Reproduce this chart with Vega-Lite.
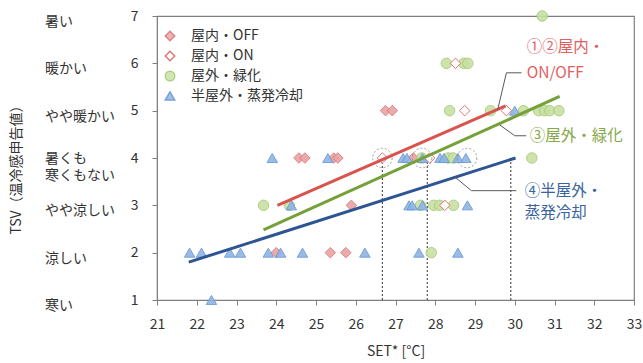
{
  "$schema": "https://vega.github.io/schema/vega-lite/v6.json",
  "width": 477,
  "height": 284,
  "autosize": {"type": "none"},
  "padding": {"left": 157, "top": 16, "right": 9, "bottom": 63},
  "config": {
    "font": "Noto Sans CJK JP",
    "view": {"stroke": "#7f7f7f", "strokeWidth": 1.2},
    "axis": {
      "grid": false,
      "domainColor": "#7f7f7f",
      "tickColor": "#7f7f7f",
      "labelColor": "#333333",
      "titleColor": "#333333",
      "labelFont": "Noto Sans CJK JP",
      "titleFont": "Noto Sans CJK JP",
      "labelFontSize": 14,
      "titleFontSize": 14,
      "titleFontWeight": "normal",
      "tickSize": 5
    }
  },
  "datasets": {
    "pts": [
      {"s": "屋内・OFF", "x": 24.0, "y": 2},
      {"s": "屋内・OFF", "x": 25.36, "y": 2},
      {"s": "屋内・OFF", "x": 25.75, "y": 2},
      {"s": "屋内・OFF", "x": 25.89, "y": 3},
      {"s": "屋内・OFF", "x": 24.57, "y": 4},
      {"s": "屋内・OFF", "x": 24.72, "y": 4},
      {"s": "屋内・OFF", "x": 25.45, "y": 4},
      {"s": "屋内・OFF", "x": 25.55, "y": 4},
      {"s": "屋内・OFF", "x": 27.45, "y": 4},
      {"s": "屋内・OFF", "x": 26.75, "y": 5},
      {"s": "屋内・OFF", "x": 26.92, "y": 5},
      {"s": "屋外・緑化", "x": 30.69, "y": 7},
      {"s": "屋外・緑化", "x": 28.28, "y": 6},
      {"s": "屋外・緑化", "x": 28.72, "y": 6},
      {"s": "屋外・緑化", "x": 28.82, "y": 6},
      {"s": "屋外・緑化", "x": 28.36, "y": 5},
      {"s": "屋外・緑化", "x": 29.39, "y": 5},
      {"s": "屋外・緑化", "x": 30.22, "y": 5},
      {"s": "屋外・緑化", "x": 30.6, "y": 5},
      {"s": "屋外・緑化", "x": 30.75, "y": 5},
      {"s": "屋外・緑化", "x": 30.88, "y": 5},
      {"s": "屋外・緑化", "x": 31.11, "y": 5},
      {"s": "屋外・緑化", "x": 27.66, "y": 4},
      {"s": "屋外・緑化", "x": 28.33, "y": 4},
      {"s": "屋外・緑化", "x": 28.45, "y": 4},
      {"s": "屋外・緑化", "x": 30.43, "y": 4},
      {"s": "屋外・緑化", "x": 23.68, "y": 3},
      {"s": "屋外・緑化", "x": 24.33, "y": 3},
      {"s": "屋外・緑化", "x": 27.63, "y": 3},
      {"s": "屋外・緑化", "x": 27.96, "y": 3},
      {"s": "屋外・緑化", "x": 28.11, "y": 3},
      {"s": "屋外・緑化", "x": 28.46, "y": 3},
      {"s": "屋外・緑化", "x": 27.9, "y": 2},
      {"s": "半屋外・蒸発冷却", "x": 22.37, "y": 1},
      {"s": "半屋外・蒸発冷却", "x": 21.82, "y": 2},
      {"s": "半屋外・蒸発冷却", "x": 22.12, "y": 2},
      {"s": "半屋外・蒸発冷却", "x": 22.83, "y": 2},
      {"s": "半屋外・蒸発冷却", "x": 23.1, "y": 2},
      {"s": "半屋外・蒸発冷却", "x": 23.8, "y": 2},
      {"s": "半屋外・蒸発冷却", "x": 24.11, "y": 2},
      {"s": "半屋外・蒸発冷却", "x": 24.66, "y": 2},
      {"s": "半屋外・蒸発冷却", "x": 26.23, "y": 2},
      {"s": "半屋外・蒸発冷却", "x": 27.59, "y": 2},
      {"s": "半屋外・蒸発冷却", "x": 28.57, "y": 2},
      {"s": "半屋外・蒸発冷却", "x": 24.38, "y": 3},
      {"s": "半屋外・蒸発冷却", "x": 27.34, "y": 3},
      {"s": "半屋外・蒸発冷却", "x": 27.42, "y": 3},
      {"s": "半屋外・蒸発冷却", "x": 27.68, "y": 3},
      {"s": "半屋外・蒸発冷却", "x": 28.81, "y": 3},
      {"s": "半屋外・蒸発冷却", "x": 23.9, "y": 4},
      {"s": "半屋外・蒸発冷却", "x": 25.3, "y": 4},
      {"s": "半屋外・蒸発冷却", "x": 27.19, "y": 4},
      {"s": "半屋外・蒸発冷却", "x": 27.29, "y": 4},
      {"s": "半屋外・蒸発冷却", "x": 27.68, "y": 4},
      {"s": "半屋外・蒸発冷却", "x": 28.12, "y": 4},
      {"s": "半屋外・蒸発冷却", "x": 28.22, "y": 4},
      {"s": "半屋外・蒸発冷却", "x": 28.57, "y": 4},
      {"s": "半屋外・蒸発冷却", "x": 28.77, "y": 4},
      {"s": "半屋外・蒸発冷却", "x": 30.0, "y": 5},
      {"s": "屋内・ON", "x": 26.67, "y": 4},
      {"s": "屋内・ON", "x": 27.86, "y": 4},
      {"s": "屋内・ON", "x": 28.51, "y": 6},
      {"s": "屋内・ON", "x": 28.74, "y": 5},
      {"s": "屋内・ON", "x": 29.79, "y": 5},
      {"s": "屋内・ON", "x": 28.24, "y": 3}
    ],
    "lines": [
      {"g": "red", "x": 24.03, "y": 3.0},
      {"g": "red", "x": 29.77, "y": 5.1},
      {"g": "green", "x": 23.68, "y": 2.48},
      {"g": "green", "x": 31.13, "y": 5.3},
      {"g": "blue", "x": 21.8, "y": 1.8},
      {"g": "blue", "x": 30.02, "y": 4.0}
    ],
    "vlines": [
      {"x": 26.67, "y": 1, "y2": 4},
      {"x": 27.8, "y": 1, "y2": 4},
      {"x": 29.9, "y": 1, "y2": 4}
    ],
    "circles": [
      {"x": 26.67, "y": 4},
      {"x": 27.67, "y": 4},
      {"x": 28.8, "y": 4}
    ],
    "leaders": [
      {"x": 30.17, "y": 5.8, "x2": 29.79, "y2": 5.8},
      {"x": 29.79, "y": 5.8, "x2": 29.57, "y2": 5.02},
      {"x": 29.62, "y": 4.7, "x2": 30.0, "y2": 4.47},
      {"x": 30.0, "y": 4.47, "x2": 30.29, "y2": 4.47},
      {"x": 28.49, "y": 3.6, "x2": 28.91, "y2": 3.31},
      {"x": 28.91, "y": 3.31, "x2": 30.04, "y2": 3.31}
    ],
    "notes": [
      {"g": "red", "x": 30.3, "y": 6.35, "t": "①②屋内・"},
      {"g": "red", "x": 30.3, "y": 5.8, "t": "ON/OFF"},
      {"g": "green", "x": 30.38, "y": 4.47, "t": "③屋外・緑化"},
      {"g": "blue", "x": 30.25, "y": 3.31, "t": "④半屋外・"},
      {"g": "blue", "x": 30.25, "y": 2.84, "t": "蒸発冷却"}
    ],
    "ylabels": [
      {"y": 7, "t": "暑い"},
      {"y": 6, "t": "暖かい"},
      {"y": 5, "t": "やや暖かい"},
      {"y": 4, "t": "暑くも\n寒くもない"},
      {"y": 3, "t": "やや涼しい"},
      {"y": 2, "t": "涼しい"},
      {"y": 1, "t": "寒い"}
    ]
  },
  "layer": [
    {
      "mark": {"type": "rule", "strokeDash": [2, 2], "color": "#555555", "strokeWidth": 1.2},
      "encoding": {
        "y": {
          "datum": 4,
          "type": "quantitative",
          "scale": {"domain": [1, 7]},
          "axis": {"values": [1, 2, 3, 4, 5, 6, 7], "title": "TSV（温冷感申告値）", "labelPadding": 14, "titleX": -134, "titleY": 150, "labelOverlap": false}
        }
      }
    },
    {
      "data": {"name": "vlines"},
      "mark": {"type": "rule", "strokeDash": [2, 2], "color": "#555555", "strokeWidth": 1.2},
      "encoding": {
        "x": {
          "field": "x",
          "type": "quantitative",
          "scale": {"domain": [21, 33], "nice": false},
          "axis": {"tickCount": 12, "title": "SET* [°C]", "labelPadding": 12, "titlePadding": 13, "labelOverlap": false, "labelFlush": false, "labelFontSize": 14}
        },
        "y": {"field": "y", "type": "quantitative"},
        "y2": {"field": "y2"}
      }
    },
    {
      "data": {"name": "pts"},
      "mark": {"type": "point", "filled": false, "size": 110, "strokeWidth": 1, "opacity": 0.9},
      "encoding": {
        "x": {"field": "x", "type": "quantitative"},
        "y": {"field": "y", "type": "quantitative"},
        "shape": {
          "field": "s",
          "type": "nominal",
          "scale": {"domain": ["屋内・OFF", "屋内・ON", "屋外・緑化", "半屋外・蒸発冷却"], "range": ["diamond", "diamond", "circle", "triangle-up"]},
          "legend": {"title": null, "orient": "none", "legendX": 6, "legendY": 13, "labelFontSize": 14, "labelColor": "#333333", "labelOffset": 14, "rowPadding": 4, "symbolSize": 90, "labelFont": "Noto Sans CJK JP"}
        },
        "fill": {
          "field": "s",
          "type": "nominal",
          "scale": {"domain": ["屋内・OFF", "屋内・ON", "屋外・緑化", "半屋外・蒸発冷却"], "range": ["#eba3a3", "#ffffff", "#c9e0a4", "#8fb4e3"]},
          "legend": {"title": null, "orient": "none", "legendX": 6, "legendY": 13, "labelFontSize": 14, "labelColor": "#333333", "labelOffset": 14, "rowPadding": 4, "symbolSize": 90, "labelFont": "Noto Sans CJK JP"}
        },
        "stroke": {
          "field": "s",
          "type": "nominal",
          "scale": {"domain": ["屋内・OFF", "屋内・ON", "屋外・緑化", "半屋外・蒸発冷却"], "range": ["#d9797a", "#e06666", "#a8ca78", "#6a9ad6"]},
          "legend": {"title": null, "orient": "none", "legendX": 6, "legendY": 13, "labelFontSize": 14, "labelColor": "#333333", "labelOffset": 14, "rowPadding": 4, "symbolSize": 90, "labelFont": "Noto Sans CJK JP"}
        }
      }
    },
    {
      "data": {"name": "circles"},
      "mark": {"type": "point", "shape": "circle", "filled": false, "size": 380, "stroke": "#777777", "strokeWidth": 1, "strokeDash": [2, 2]},
      "encoding": {
        "x": {"field": "x", "type": "quantitative"},
        "y": {"field": "y", "type": "quantitative"}
      }
    },
    {
      "data": {"name": "lines"},
      "mark": {"type": "line", "strokeWidth": 3},
      "encoding": {
        "x": {"field": "x", "type": "quantitative"},
        "y": {"field": "y", "type": "quantitative"},
        "color": {
          "field": "g",
          "type": "nominal",
          "scale": {"domain": ["red", "green", "blue"], "range": ["#d9534f", "#76a03a", "#2d5593"]},
          "legend": null
        }
      }
    },
    {
      "data": {"name": "leaders"},
      "mark": {"type": "rule", "color": "#595959", "strokeWidth": 1},
      "encoding": {
        "x": {"field": "x", "type": "quantitative"},
        "y": {"field": "y", "type": "quantitative"},
        "x2": {"field": "x2"},
        "y2": {"field": "y2"}
      }
    },
    {
      "data": {"name": "notes"},
      "transform": [{"filter": "datum.g === 'red'"}],
      "mark": {"type": "text", "align": "left", "baseline": "middle", "fontSize": 15.5, "color": "#e06060"},
      "encoding": {
        "x": {"field": "x", "type": "quantitative"},
        "y": {"field": "y", "type": "quantitative"},
        "text": {"field": "t"}
      }
    },
    {
      "data": {"name": "notes"},
      "transform": [{"filter": "datum.g === 'green'"}],
      "mark": {"type": "text", "align": "left", "baseline": "middle", "fontSize": 15.5, "color": "#86a84a"},
      "encoding": {
        "x": {"field": "x", "type": "quantitative"},
        "y": {"field": "y", "type": "quantitative"},
        "text": {"field": "t"}
      }
    },
    {
      "data": {"name": "notes"},
      "transform": [{"filter": "datum.g === 'blue'"}],
      "mark": {"type": "text", "align": "left", "baseline": "middle", "fontSize": 15.5, "color": "#3a64a0"},
      "encoding": {
        "x": {"field": "x", "type": "quantitative"},
        "y": {"field": "y", "type": "quantitative"},
        "text": {"field": "t"}
      }
    },
    {
      "data": {"name": "ylabels"},
      "transform": [{"filter": "datum.y !== 4"}],
      "mark": {"type": "text", "align": "left", "baseline": "middle", "fontSize": 14, "color": "#333333", "dy": 6, "clip": false},
      "encoding": {
        "x": {"datum": 18.18, "type": "quantitative"},
        "y": {"field": "y", "type": "quantitative"},
        "text": {"field": "t"}
      }
    },
    {
      "data": {"name": "ylabels"},
      "transform": [{"filter": "datum.y === 4"}],
      "mark": {"type": "text", "align": "left", "baseline": "middle", "fontSize": 14, "color": "#333333", "dy": 1, "lineBreak": "\n", "lineHeight": 17, "clip": false},
      "encoding": {
        "x": {"datum": 18.18, "type": "quantitative"},
        "y": {"field": "y", "type": "quantitative"},
        "text": {"field": "t"}
      }
    }
  ]
}
